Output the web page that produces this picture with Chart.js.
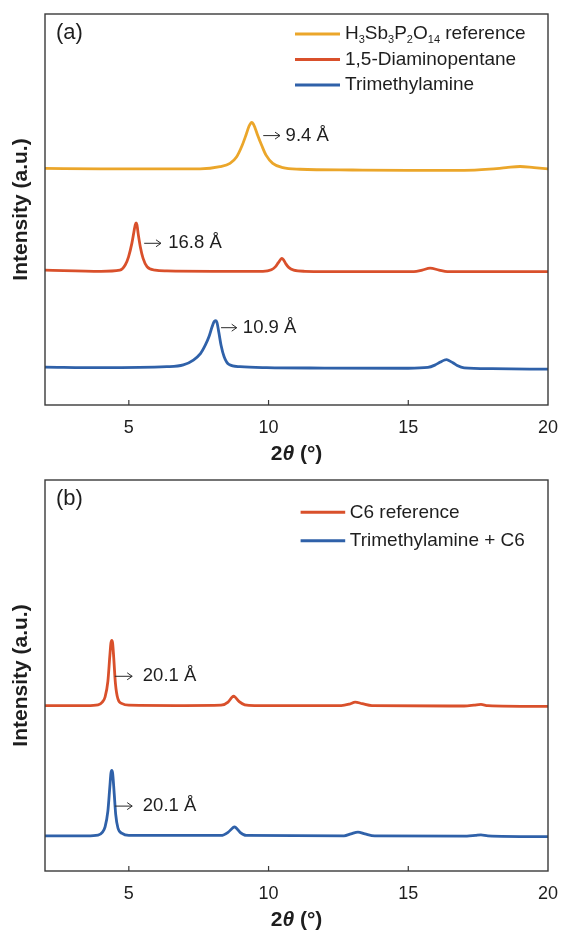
<!DOCTYPE html>
<html>
<head>
<meta charset="utf-8">
<script src="https://cdn.jsdelivr.net/npm/chart.js@4.4.1/dist/chart.umd.min.js"></script>
<style>
  html, body { margin: 0; padding: 0; background: #ffffff; }
  canvas { display: block; }
</style>
</head>
<body>
<canvas id="panelA" width="562" height="466"></canvas>
<canvas id="panelB" width="562" height="466"></canvas>
<script>
// ---- XRD patterns, 2θ (degrees) vs. offset intensity (a.u.) ----

// Panel (a)
const refAngle = [2, 4, 6, 7.55, 8.26, 8.62, 8.86, 9.05, 9.19, 9.30, 9.36, 9.40, 9.45, 9.52, 9.61, 9.76, 9.91, 10.15, 10.51, 11.13, 13, 15, 17, 17.9, 18.5, 19.0, 19.5, 20];
const refIntensity = [60.5, 60.4, 60.4, 60.4, 60.95, 61.8, 63.5, 66.3, 69.0, 71.3, 72.05, 72.25, 71.95, 70.8, 69.0, 66.3, 63.9, 61.8, 60.7, 60.3, 60.1, 60.0, 60.0, 60.3, 60.7, 61.0, 60.7, 60.4];

const dapAngle = [2, 4, 4.68, 4.87, 4.99, 5.11, 5.18, 5.23, 5.26, 5.29, 5.34, 5.41, 5.51, 5.65, 5.94, 6.36, 8, 9.8, 10.1, 10.25, 10.35, 10.44, 10.48, 10.53, 10.62, 10.72, 10.9, 11.3, 13, 15.2, 15.5, 15.78, 16.1, 16.4, 18, 20];
const dapIntensity = [34.5, 34.2, 34.5, 35.8, 37.9, 41.4, 44.2, 46.1, 46.6, 46.1, 43.5, 40.5, 37.5, 35.4, 34.5, 34.3, 34.2, 34.2, 34.6, 35.4, 36.4, 37.3, 37.5, 37.2, 36.1, 35.2, 34.5, 34.2, 34.1, 34.1, 34.5, 35.0, 34.5, 34.1, 34.1, 34.1];

const tmaAngle = [2, 4, 6.36, 6.95, 7.31, 7.57, 7.74, 7.87, 7.98, 8.05, 8.10, 8.15, 8.22, 8.30, 8.41, 8.58, 8.98, 9.93, 12, 15, 15.7, 15.95, 16.15, 16.30, 16.37, 16.45, 16.6, 16.75, 17.0, 18, 20];
const tmaIntensity = [9.7, 9.55, 9.8, 10.25, 11.5, 13.2, 15.35, 17.5, 20.0, 21.3, 21.55, 21.2, 18.6, 15.3, 12.35, 10.4, 9.8, 9.55, 9.45, 9.4, 9.6, 10.2, 11.0, 11.5, 11.6, 11.4, 10.8, 10.1, 9.5, 9.3, 9.15];

// Panel (b)
const c6Angle = [2, 3.5, 3.9, 4.05, 4.15, 4.25, 4.32, 4.36, 4.39, 4.42, 4.46, 4.52, 4.61, 4.76, 5.0, 7, 8.3, 8.55, 8.70, 8.75, 8.80, 8.95, 9.15, 9.5, 12.6, 12.9, 13.1, 13.35, 13.7, 17.0, 17.35, 17.6, 17.85, 20];
const c6Intensity = [42.3, 42.3, 42.5, 43.2, 44.5, 48.5, 55.0, 58.3, 59.0, 58.3, 54.5, 48.0, 44.0, 42.8, 42.4, 42.3, 42.4, 43.2, 44.5, 44.7, 44.5, 43.3, 42.5, 42.3, 42.3, 42.7, 43.2, 42.8, 42.3, 42.2, 42.4, 42.6, 42.3, 42.1];

const tmaC6Angle = [2, 3.5, 3.9, 4.05, 4.15, 4.25, 4.32, 4.36, 4.39, 4.42, 4.47, 4.53, 4.61, 4.76, 5.0, 8.3, 8.55, 8.73, 8.78, 8.83, 8.98, 9.2, 12.7, 12.95, 13.2, 13.45, 13.8, 17.1, 17.4, 17.6, 17.85, 20];
const tmaC6Intensity = [9.0, 9.0, 9.2, 9.9, 11.3, 15.3, 21.5, 25.0, 25.7, 25.0, 20.5, 14.5, 11.0, 9.6, 9.1, 9.1, 9.9, 11.1, 11.3, 11.1, 9.9, 9.1, 9.0, 9.5, 9.96, 9.5, 9.0, 8.9, 9.1, 9.25, 9.0, 8.8];

// Axis ticks and series names
const xTicks = [5, 10, 15, 20];
const namesA = ['H₃Sb₃P₂O₁₄ reference', '1,5-Diaminopentane', 'Trimethylamine'];
const namesB = ['C6 reference', 'Trimethylamine + C6'];

// d-spacing callouts: arrow from / to (2θ), arrow level (a.u.), label start (2θ), text
const calloutFromA = [9.81, 5.55, 8.30];
const calloutToA = [10.41, 6.15, 8.86];
const calloutLevelA = [68.9, 41.36, 19.77];
const calloutTextAtA = [10.61, 6.41, 9.08];
const calloutTextA = ['9.4 Å', '16.8 Å', '10.9 Å'];

const calloutFromB = [4.50, 4.50];
const calloutToB = [5.12, 5.12];
const calloutLevelB = [49.8, 16.6];
const calloutTextAtB = [5.50, 5.50];
const calloutTextB = ['20.1 Å', '20.1 Å'];

// ---- styling ----
const FONT = "'Liberation Sans', Arial, Helvetica, sans-serif";
const INK = '#1e1e1e';
const FRAME = '#3a3a3a';
const GOLD = '#EBA62A';
const RED = '#D9502B';
const BLUE = '#2F61A9';

Chart.defaults.font.family = FONT;
Chart.defaults.color = INK;

function points(xs, ys) {
  return xs.map((x, i) => ({ x: x, y: ys[i] }));
}

function series(label, xs, ys, color) {
  return {
    label: label,
    data: points(xs, ys),
    borderColor: color,
    backgroundColor: color,
    borderWidth: 2.8,
    pointRadius: 0,
    cubicInterpolationMode: 'monotone',
    fill: false
  };
}

// draws a label, rendering Unicode subscript digits as small lowered digits
function drawRichText(ctx, text, x, y, size) {
  const subs = '₀₁₂₃₄₅₆₇₈₉';
  let cx = x;
  let run = '';
  const flush = () => {
    if (!run) return;
    ctx.font = size + 'px ' + FONT;
    ctx.fillText(run, cx, y);
    cx += ctx.measureText(run).width;
    run = '';
  };
  for (const ch of text) {
    const k = subs.indexOf(ch);
    if (k >= 0) {
      flush();
      const s = Math.round(size * 0.6);
      ctx.font = s + 'px ' + FONT;
      ctx.fillText(String(k), cx, y + size * 0.3);
      cx += ctx.measureText(String(k)).width;
    } else {
      run += ch;
    }
  }
  flush();
}

const panelDecor = {
  id: 'panelDecor',
  afterDraw(chart, args, o) {
    const { ctx, chartArea: a, scales: { x, y } } = chart;
    ctx.save();

    // inward tick marks on the bottom axis
    ctx.strokeStyle = FRAME;
    ctx.lineWidth = 1.2;
    x.ticks.forEach(t => {
      const px = x.getPixelForValue(t.value);
      if (px > a.left + 1 && px < a.right - 1) {
        ctx.beginPath();
        ctx.moveTo(px, a.bottom);
        ctx.lineTo(px, a.bottom - 5);
        ctx.stroke();
      }
    });

    // plot frame
    ctx.lineWidth = 1.4;
    ctx.strokeRect(a.left, a.top, a.right - a.left, a.bottom - a.top);

    // panel tag
    ctx.fillStyle = INK;
    ctx.textBaseline = 'middle';
    ctx.textAlign = 'left';
    ctx.font = '22px ' + FONT;
    ctx.fillText(o.tag, a.left + 11, a.top + 19);

    // legend
    const lg = o.legend;
    chart.data.datasets.forEach((ds, i) => {
      const ry = a.top + lg.top + i * lg.step;
      const lx = a.left + lg.left;
      ctx.strokeStyle = ds.borderColor;
      ctx.lineWidth = 3;
      ctx.beginPath();
      ctx.moveTo(lx, ry);
      ctx.lineTo(lx + lg.length, ry);
      ctx.stroke();
      ctx.fillStyle = INK;
      drawRichText(ctx, ds.label, lx + lg.length + lg.gap, ry, 19);
    });

    // d-spacing callouts
    const c = o.callouts;
    c.text.forEach((txt, i) => {
      const x1 = x.getPixelForValue(c.from[i]);
      const x2 = x.getPixelForValue(c.to[i]);
      const py = y.getPixelForValue(c.level[i]);
      ctx.strokeStyle = '#2a2a2a';
      ctx.lineWidth = 1;
      ctx.beginPath();
      ctx.moveTo(x1, py);
      ctx.lineTo(x2, py);
      ctx.moveTo(x2 - 5, py - 3.5);
      ctx.lineTo(x2, py);
      ctx.lineTo(x2 - 5, py + 3.5);
      ctx.stroke();
      ctx.fillStyle = INK;
      ctx.font = '18.5px ' + FONT;
      ctx.textBaseline = 'middle';
      ctx.fillText(txt, x.getPixelForValue(c.textAt[i]), py);
    });

    // x-axis title: 2θ (°) with an italic theta
    const parts = [
      ['2', 'bold 21px ' + FONT],
      ['θ', 'italic bold 21px ' + FONT],
      [' (°)', 'bold 21px ' + FONT]
    ];
    let total = 0;
    parts.forEach(p => { ctx.font = p[1]; total += ctx.measureText(p[0]).width; });
    let tx = (a.left + a.right) / 2 - total / 2;
    const ty = a.bottom + 55;
    ctx.textBaseline = 'alphabetic';
    ctx.fillStyle = INK;
    parts.forEach(p => {
      ctx.font = p[1];
      ctx.fillText(p[0], tx, ty);
      tx += ctx.measureText(p[0]).width;
    });

    ctx.restore();
  }
};

function makePanel(id, datasets, tag, legend, callouts) {
  return new Chart(document.getElementById(id), {
    type: 'line',
    data: { datasets: datasets },
    plugins: [panelDecor],
    options: {
      responsive: false,
      animation: false,
      devicePixelRatio: 1,
      events: [],
      layout: { padding: { top: 14, right: 14, left: 0, bottom: 0 } },
      plugins: {
        legend: { display: false },
        tooltip: { enabled: false },
        panelDecor: { tag: tag, legend: legend, callouts: callouts }
      },
      scales: {
        x: {
          type: 'linear',
          min: 2,
          max: 20,
          grid: { display: false },
          border: { display: false },
          afterBuildTicks: s => { s.ticks = xTicks.map(v => ({ value: v })); },
          afterFit: s => { s.height = 61; s.paddingLeft = 0; s.paddingRight = 0; },
          ticks: {
            padding: 4,
            maxRotation: 0,
            font: { size: 18, family: FONT },
            color: INK
          }
        },
        y: {
          type: 'linear',
          min: 0,
          max: 100,
          grid: { display: false },
          border: { display: false },
          ticks: { display: false },
          afterFit: s => { s.width = 45; },
          title: {
            display: true,
            text: 'Intensity (a.u.)',
            color: INK,
            padding: { top: 9, bottom: 0 },
            font: { size: 21, weight: 'bold', family: FONT }
          }
        }
      }
    }
  });
}

makePanel('panelA', [
  series(namesA[0], refAngle, refIntensity, GOLD),
  series(namesA[1], dapAngle, dapIntensity, RED),
  series(namesA[2], tmaAngle, tmaIntensity, BLUE)
], '(a)',
  { left: 250, length: 45, gap: 5, top: 20, step: 25.5 },
  { from: calloutFromA, to: calloutToA, level: calloutLevelA, textAt: calloutTextAtA, text: calloutTextA });

makePanel('panelB', [
  series(namesB[0], c6Angle, c6Intensity, RED),
  series(namesB[1], tmaC6Angle, tmaC6Intensity, BLUE)
], '(b)',
  { left: 255.6, length: 44.6, gap: 4.6, top: 32.3, step: 28.4 },
  { from: calloutFromB, to: calloutToB, level: calloutLevelB, textAt: calloutTextAtB, text: calloutTextB });
</script>
</body>
</html>
